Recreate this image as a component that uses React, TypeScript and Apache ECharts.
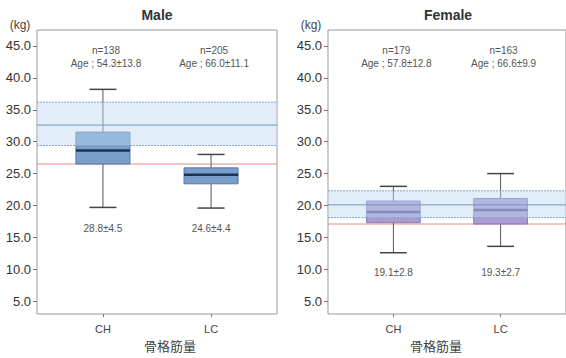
import { useEffect, useRef } from 'react';
import * as echarts from 'echarts';

const categories = ['CH', 'LC'];
const yTickValues = [5, 10, 15, 20, 25, 30, 35, 40, 45];
// [lower whisker, Q1, median, Q3, upper whisker]
const maleCH = [19.7, 26.5, 28.6, 31.5, 38.2];
const maleLC = [19.6, 23.4, 24.8, 25.9, 28.0];
const femaleCH = [12.6, 17.3, 19.0, 20.7, 23.0];
const femaleLC = [13.6, 17.1, 19.3, 21.1, 25.0];
const maleN = [138, 205];
const femaleN = [179, 163];
const maleAge = ['54.3±13.8', '66.0±11.1'];
const femaleAge = ['57.8±12.8', '66.6±9.9'];
const maleMeanSd = ['28.8±4.5', '24.6±4.4'];
const femaleMeanSd = ['19.1±2.8', '19.3±2.7'];
// reference band [lower, mid, upper]
const maleBand = [29.4, 32.6, 36.2];
const femaleBand = [18.1, 20.1, 22.3];
const maleCutoff = 26.5;
const femaleCutoff = 17.1;

const FONT = '"Liberation Sans", Arial, sans-serif';

function buildPanel(idx: number, stats: number[][], band: number[], cutoff: number, n: number[], age: string[], meanSd: string[], fill: string, border: string, median: string, meanOffset: number) {
  const boxData = stats.map((s, i) => [i, ...s]);
  return [
    {
      type: 'custom', xAxisIndex: idx, yAxisIndex: idx, z: 2, silent: true,
      data: [[0, cutoff]],
      renderItem: (params: any, api: any) => {
        const cs = params.coordSys;
        const y = api.coord([0, api.value(1)])[1];
        return { type: 'line', shape: { x1: cs.x, y1: y, x2: cs.x + cs.width, y2: y }, style: { stroke: '#ee8c82', lineWidth: 1 } };
      },
    },
    {
      type: 'custom', xAxisIndex: idx, yAxisIndex: idx, z: 3, silent: true,
      data: boxData,
      encode: { x: 0, y: [1, 2, 3, 4, 5] },
      renderItem: (params: any, api: any) => {
        const x = api.value(0);
        const cx = api.coord([x, 0])[0];
        const lo = api.coord([x, api.value(1)])[1];
        const q1 = api.coord([x, api.value(2)])[1];
        const md = api.coord([x, api.value(3)])[1];
        const q3 = api.coord([x, api.value(4)])[1];
        const hi = api.coord([x, api.value(5)])[1];
        const half = api.size([0.5, 0])[0] / 2;
        const cap = api.size([0.25, 0])[0] / 2;
        const wStyle = { stroke: '#555', lineWidth: 1 };
        return {
          type: 'group',
          children: [
            { type: 'line', shape: { x1: cx, y1: hi, x2: cx, y2: q3 }, style: wStyle },
            { type: 'line', shape: { x1: cx, y1: q1, x2: cx, y2: lo }, style: wStyle },
            { type: 'line', shape: { x1: cx - cap, y1: hi, x2: cx + cap, y2: hi }, style: { stroke: '#444', lineWidth: 1.5 } },
            { type: 'line', shape: { x1: cx - cap, y1: lo, x2: cx + cap, y2: lo }, style: { stroke: '#444', lineWidth: 1.5 } },
            { type: 'rect', shape: { x: cx - half, y: q3, width: half * 2, height: q1 - q3 }, style: { fill, stroke: border, lineWidth: 1 } },
            { type: 'line', shape: { x1: cx - half, y1: md, x2: cx + half, y2: md }, style: { stroke: median, lineWidth: 2.5 } },
          ],
        };
      },
    },
    {
      type: 'custom', xAxisIndex: idx, yAxisIndex: idx, z: 4, silent: true,
      data: [[0, ...band]],
      renderItem: (params: any, api: any) => {
        const cs = params.coordSys;
        const yl = api.coord([0, api.value(1)])[1];
        const ym = api.coord([0, api.value(2)])[1];
        const yh = api.coord([0, api.value(3)])[1];
        const x1 = cs.x, x2 = cs.x + cs.width;
        return {
          type: 'group',
          children: [
            { type: 'rect', shape: { x: x1, y: yh, width: cs.width, height: yl - yh }, style: { fill: 'rgba(188,218,244,0.45)' } },
            { type: 'line', shape: { x1, y1: yh, x2, y2: yh }, style: { stroke: '#8aa5c0', lineWidth: 1, lineDash: [2, 1] } },
            { type: 'line', shape: { x1, y1: yl, x2, y2: yl }, style: { stroke: '#8aa5c0', lineWidth: 1, lineDash: [2, 1] } },
            { type: 'line', shape: { x1, y1: ym, x2, y2: ym }, style: { stroke: '#7293b5', lineWidth: 1 } },
          ],
        };
      },
    },
    {
      type: 'custom', xAxisIndex: idx, yAxisIndex: idx, z: 5, silent: true,
      data: n.map((_, i) => [i]),
      renderItem: (params: any, api: any) => {
        const cs = params.coordSys;
        const i = params.dataIndex;
        const cx = api.coord([api.value(0), 0])[0];
        const ts = { fill: '#555', font: `10px ${FONT}`, align: 'center', verticalAlign: 'middle' };
        return {
          type: 'group',
          children: [
            { type: 'text', x: cx + 3, y: cs.y + 20, style: { ...ts, text: `n=${n[i]}` } },
            { type: 'text', x: cx + 3, y: cs.y + 33, style: { ...ts, text: `Age ; ${age[i]}` } },
            { type: 'text', x: cx, y: cs.y + meanOffset, style: { ...ts, text: meanSd[i] } },
          ],
        };
      },
    },
  ];
}

export default function App() {
  const ref = useRef<HTMLDivElement>(null);
  useEffect(() => {
    const chart = echarts.init(ref.current!, undefined, { renderer: 'svg' });
    const grids = [
      { left: 37, top: 30, width: 240, height: 284 },
      { left: 328, top: 30, width: 240, height: 284 },
    ];
    const xAxis = grids.map((_, i) => ({
      type: 'value', gridIndex: i, min: -0.61, max: 1.61, position: 'bottom',
      axisLine: { show: false, onZero: false },
      splitLine: { show: false },
      axisTick: { show: true, customValues: [0, 1], length: 3, lineStyle: { color: '#777' } },
      axisLabel: { customValues: [0, 1], formatter: (v: number) => categories[Math.round(v)], color: '#444', fontSize: 11, fontFamily: FONT, margin: 9 },
    }));
    const yAxis = grids.map((_, i) => ({
      type: 'value', gridIndex: i, min: 3, max: 47.5, position: 'left',
      axisLine: { show: false, onZero: false },
      splitLine: { show: false },
      axisTick: { show: true, customValues: yTickValues, length: 4, lineStyle: { color: '#777' } },
      axisLabel: { customValues: yTickValues, formatter: (v: number) => v.toFixed(1), color: '#333', fontSize: 13, fontFamily: FONT, margin: 6 },
    }));
    const series = [
      ...buildPanel(0, [maleCH, maleLC], maleBand, maleCutoff, maleN, maleAge, maleMeanSd, '#7a9ecc', '#5878a3', '#1e3352', 198),
      ...buildPanel(1, [femaleCH, femaleLC], femaleBand, femaleCutoff, femaleN, femaleAge, femaleMeanSd, '#a99bd3', '#8676b5', '#5a4d85', 242),
    ];
    chart.setOption({
      animation: false,
      backgroundColor: '#fff',
      grid: grids.map(g => ({ ...g, show: true, borderColor: '#999', borderWidth: 1 })),
      xAxis, yAxis, series,
      graphic: [
        { type: 'text', x: 157, y: 15, style: { text: 'Male', font: `bold 14px ${FONT}`, fill: '#333', align: 'center', verticalAlign: 'middle' } },
        { type: 'text', x: 448, y: 15, style: { text: 'Female', font: `bold 14px ${FONT}`, fill: '#333', align: 'center', verticalAlign: 'middle' } },
        { type: 'text', x: 20, y: 25, style: { text: '(kg)', font: `12px ${FONT}`, fill: '#444', align: 'center', verticalAlign: 'middle' } },
        { type: 'text', x: 311, y: 25, style: { text: '(kg)', font: `12px ${FONT}`, fill: '#444', align: 'center', verticalAlign: 'middle' } },
        { type: 'text', x: 170, y: 345, style: { text: '骨格筋量', font: `13px "Noto Sans CJK JP", sans-serif`, fill: '#444', align: 'center', verticalAlign: 'middle' } },
        { type: 'text', x: 436, y: 345, style: { text: '骨格筋量', font: `13px "Noto Sans CJK JP", sans-serif`, fill: '#444', align: 'center', verticalAlign: 'middle' } },
      ],
    });
    return () => chart.dispose();
  }, []);
  return <div ref={ref} style={{ position: 'fixed', left: 0, top: 0, width: 566, height: 358 }} />;
}
